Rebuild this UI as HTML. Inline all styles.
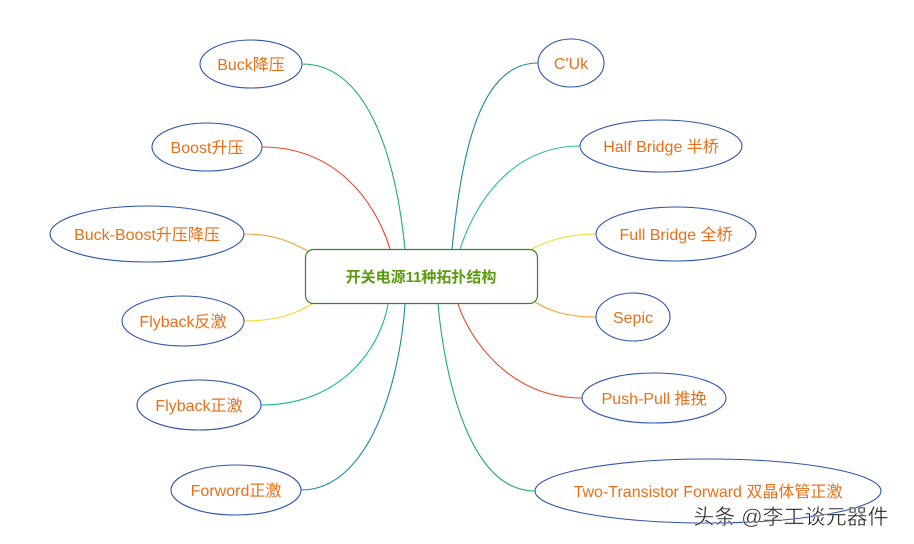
<!DOCTYPE html>
<html><head><meta charset="utf-8"><style>
html,body{margin:0;padding:0;background:#fff;width:914px;height:544px;overflow:hidden}
text{font-family:"Liberation Sans","Noto Sans CJK SC",sans-serif;}
</style></head><body>
<svg width="914" height="544" viewBox="0 0 914 544" xmlns="http://www.w3.org/2000/svg">
<g fill="none" stroke-width="1.1">
<path d="M302,64 C365,64 395,150 405,249" stroke="#1fae62"/>
<path d="M262,147 C335,147 375,200 390,249" stroke="#f0442a"/>
<path d="M244,234 C280,234 295,245 310,252" stroke="#f7a230"/>
<path d="M244,321 C280,321 300,312 315,302" stroke="#f5d82a"/>
<path d="M261,405 C340,405 380,350 388,304" stroke="#22b89a"/>
<path d="M301,490 C370,490 400,380 405,304" stroke="#1a8a9a"/>
<path d="M538,63 C480,63 462,150 452,249" stroke="#1a8a9a"/>
<path d="M580,146 C520,146 480,190 460,249" stroke="#22b89a"/>
<path d="M596,234 C565,234 545,242 530,250" stroke="#f5d82a"/>
<path d="M596,317 C565,317 548,310 535,302" stroke="#f7a230"/>
<path d="M582,398 C510,398 470,340 458,304" stroke="#f0442a"/>
<path d="M535,491 C470,491 445,380 438,304" stroke="#1fae62"/>
</g>
<rect x="305.5" y="249.5" width="232" height="54" rx="8" fill="#fff" stroke="#2a8a2a" stroke-width="1.2"/>
<text x="421" y="282" text-anchor="middle" font-size="15" font-weight="bold" fill="#5a9a10">开关电源11种拓扑结构</text>
<g fill="#fff" stroke="#2c55b0" stroke-width="1.1">
<ellipse cx="251" cy="64" rx="51" ry="24"/>
<ellipse cx="207" cy="147" rx="55" ry="24"/>
<ellipse cx="147" cy="234" rx="97" ry="28"/>
<ellipse cx="183" cy="321" rx="61" ry="25"/>
<ellipse cx="199" cy="405" rx="62" ry="25"/>
<ellipse cx="236" cy="490" rx="65" ry="25"/>
<ellipse cx="571" cy="63" rx="33" ry="24"/>
<ellipse cx="661" cy="146" rx="81" ry="26"/>
<ellipse cx="676" cy="234" rx="80" ry="27"/>
<ellipse cx="633" cy="317" rx="37" ry="24"/>
<ellipse cx="654" cy="398" rx="72" ry="25"/>
<ellipse cx="708" cy="491" rx="173" ry="32"/>
</g>
<g fill="#e8701a" font-size="16" text-anchor="middle">
<text x="251" y="70">Buck降压</text>
<text x="207" y="153">Boost升压</text>
<text x="147" y="240">Buck-Boost升压降压</text>
<text x="183" y="327">Flyback反激</text>
<text x="199" y="411">Flyback正激</text>
<text x="236" y="496">Forword正激</text>
<text x="571" y="69">C'Uk</text>
<text x="661" y="152">Half Bridge 半桥</text>
<text x="676" y="240">Full Bridge 全桥</text>
<text x="633" y="323">Sepic</text>
<text x="654" y="404">Push-Pull 推挽</text>
<text x="708" y="497">Two-Transistor Forward 双晶体管正激</text>
</g>
<text x="791" y="524" text-anchor="middle" font-size="21" fill="#222" stroke="#fff" stroke-width="0.4">头条 @李工谈元器件</text>
</svg>
</body></html>
